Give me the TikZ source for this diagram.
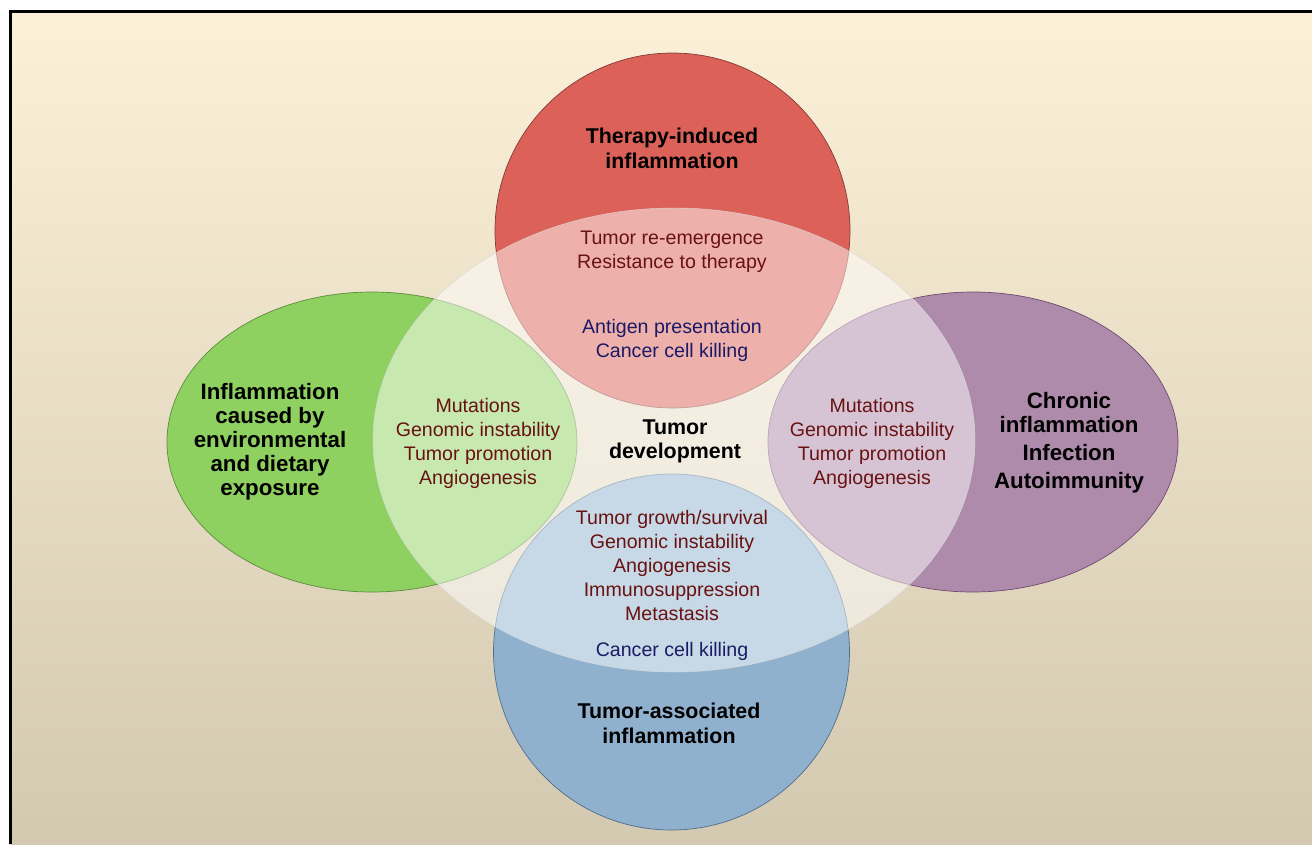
\documentclass[tikz,border=0pt]{standalone}
\usepackage{fontspec}
\setmainfont{Liberation Sans}
\definecolor{bgtop}{RGB}{252,240,217}
\definecolor{bgbot}{RGB}{211,200,176}
\definecolor{redc}{RGB}{220,97,88}
\definecolor{redl}{RGB}{130,60,55}
\definecolor{greenc}{RGB}{143,209,96}
\definecolor{greenl}{RGB}{90,140,60}
\definecolor{purc}{RGB}{174,138,171}
\definecolor{purl}{RGB}{110,75,110}
\definecolor{bluec}{RGB}{144,177,206}
\definecolor{bluel}{RGB}{80,110,140}
\definecolor{dred}{RGB}{105,18,18}
\definecolor{navy}{RGB}{26,26,102}
\begin{document}
\begin{tikzpicture}[x=1pt,y=-1pt,
  lbl/.style={align=center, font=\fontsize{19.6}{24}\selectfont, inner sep=0pt},
  ttl/.style={align=center, font=\bfseries\fontsize{21.4}{24.5}\selectfont, inner sep=0pt, text=black},
  sidettl/.style={ttl, font=\bfseries\fontsize{22.3}{24}\selectfont},
  badtxt/.style={lbl, text=dred},
  goodtxt/.style={lbl, text=navy},
  blob/.style={line width=0.7pt}]
\useasboundingbox (0,0) rectangle (1312,844);
\fill[white] (0,0) rectangle (1312,844);
\shade[top color=bgtop, bottom color=bgbot] (10,11) rectangle (1312,844);
\draw[line width=3pt] (10,844) -- (10,11.5) -- (1312,11.5);
% outer circles
\coordinate (cR) at (672.5,230.5);
\coordinate (cB) at (671.5,652);
\coordinate (cG) at (372,442);
\coordinate (cP) at (973,442);
\coordinate (cC) at (674,440);
\draw[blob, fill=redc, draw=redl] (cR) circle (177.5);
\draw[blob, fill=bluec, draw=bluel] (cB) circle (178);
\draw[blob, fill=greenc, draw=greenl] (cG) ellipse [x radius=205, y radius=150];
\draw[blob, fill=purc, draw=purl] (cP) ellipse [x radius=205, y radius=150];
% central tumour ellipse
\draw[fill=white, fill opacity=0.5, draw=black!15, line width=0.4pt] (cC) ellipse [x radius=301, y radius=232];
% texts
\node[ttl] (t1) at (672,148.5) {Therapy-induced\\inflammation};
\node[badtxt] (r1) at (672,252) {Tumor re-emergence\\Resistance to therapy};
\node[goodtxt] (r2) at (672,340) {Antigen presentation\\Cancer cell killing};
\node[sidettl] (g1) at (270,442) {Inflammation\\caused by\\environmental\\and dietary\\exposure};
\node[badtxt] (g2) at (478,443) {Mutations\\Genomic instability\\Tumor promotion\\Angiogenesis};
\node[ttl] (c1) at (675,441.5) {Tumor\\development};
\node[badtxt] (p2) at (872,443) {Mutations\\Genomic instability\\Tumor promotion\\Angiogenesis};
\node[sidettl] (p1) at (1069,413) {Chronic\\inflammation};
\node[sidettl] (p3) at (1069,453) {Infection};
\node[sidettl] (p4) at (1069,483) {Autoimmunity};
\node[badtxt] (b1) at (672,565) {Tumor growth/survival\\Genomic instability\\Angiogenesis\\Immunosuppression\\Metastasis};
\node[goodtxt] (b2) at (672,651) {Cancer cell killing};
\node[ttl] (b3) at (669,723.5) {Tumor-associated\\inflammation};
\end{tikzpicture}
\end{document}
